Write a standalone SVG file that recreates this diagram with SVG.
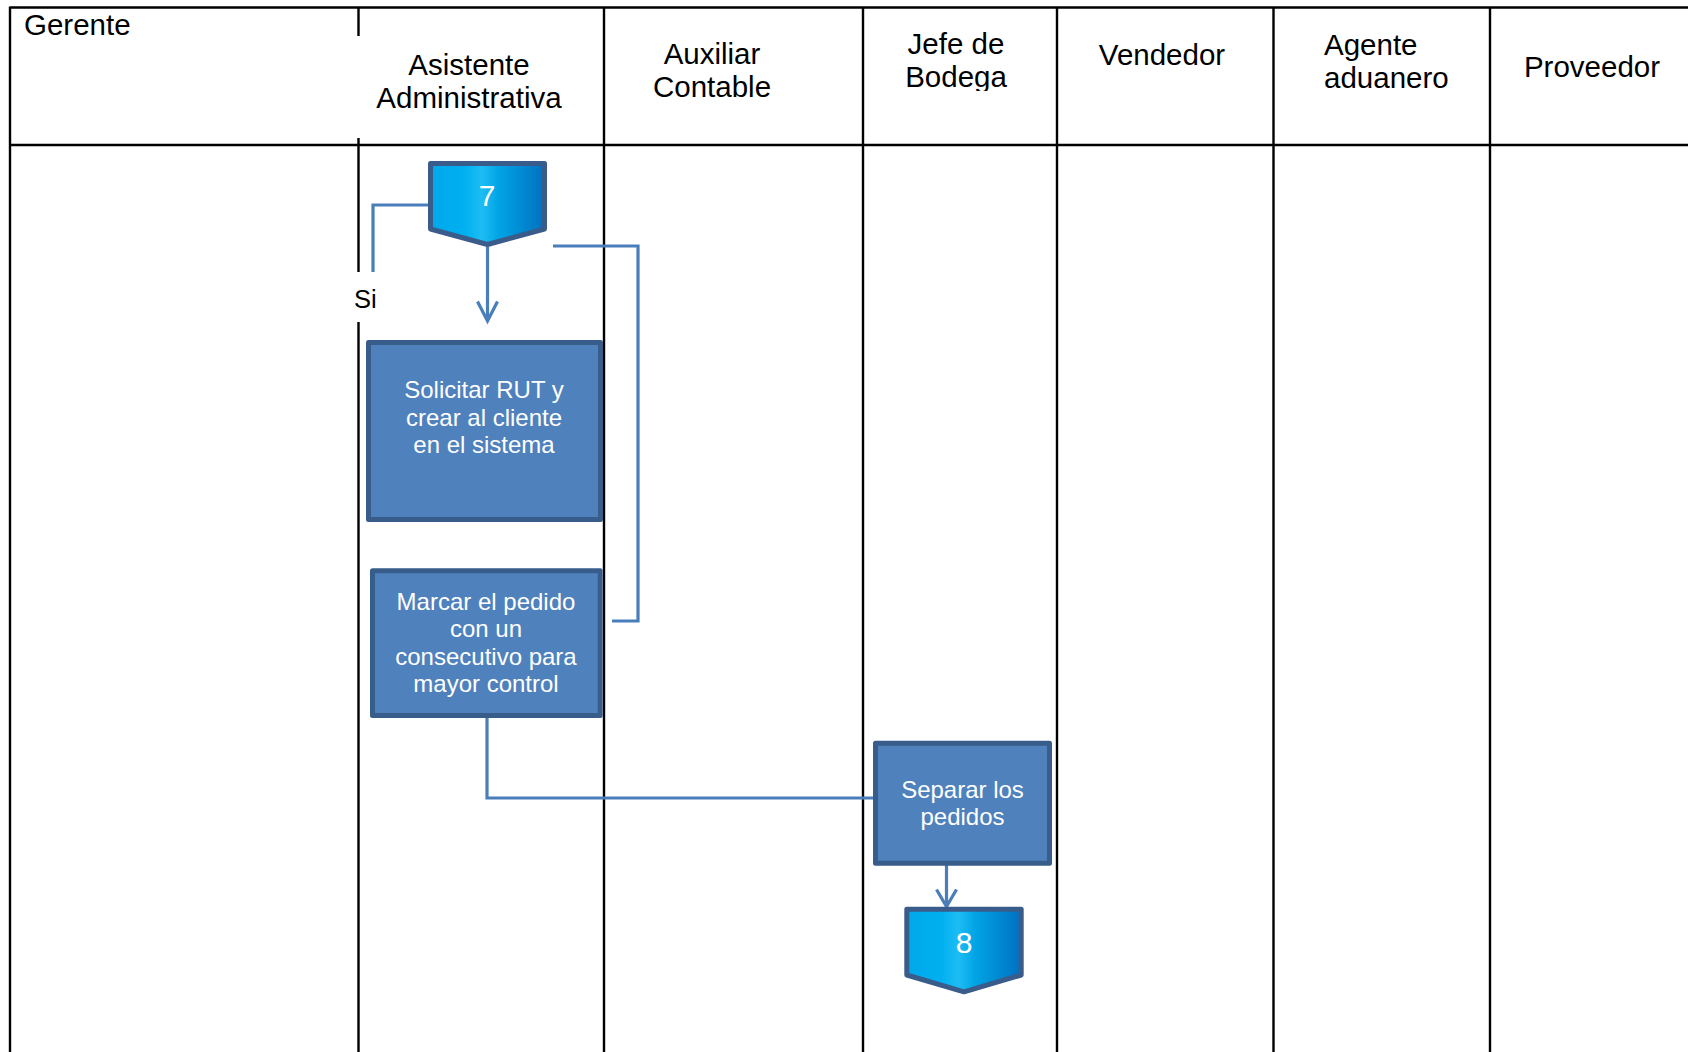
<svg xmlns="http://www.w3.org/2000/svg" width="1688" height="1052" viewBox="0 0 1688 1052">
<style>
.grid{stroke:#000;stroke-width:2.4;fill:none}
.hdr{font-family:"Liberation Sans",Arial,sans-serif;font-size:29.5px;fill:#000}
.c{text-anchor:middle}
.proc{fill:#4F81BD;stroke:#385D8A;stroke-width:5;stroke-linejoin:round}
.ptxt{font-family:"Liberation Sans",Arial,sans-serif;font-size:24px;fill:#fff;text-anchor:middle}
.off{fill:url(#g);stroke:#3A5C8A;stroke-width:5;stroke-linejoin:round}
.otxt{font-family:"Liberation Sans",Arial,sans-serif;font-size:30px;fill:#fff;text-anchor:middle}
.conn{fill:none;stroke:#4A7EBB;stroke-width:3.2}
</style>
<defs>
<linearGradient id="g" x1="0" y1="0" x2="1" y2="0">
<stop offset="0" stop-color="#00A8EA"/>
<stop offset="0.3" stop-color="#00B0F0"/>
<stop offset="0.45" stop-color="#1EBCF4"/>
<stop offset="0.6" stop-color="#00A4E4"/>
<stop offset="1" stop-color="#0070C0"/>
</linearGradient>
<clipPath id="bclip"><rect x="860" y="0" width="200" height="91"/></clipPath>
</defs>
<rect width="1688" height="1052" fill="#fff"/>
<g id="table">
<path class="grid" d="M10,7.5 H1688 M10,145 H1688 M10,6.5 V1052 M358.5,6.5 V36 M358.5,138 V272 M358.5,322 V1052 M604,7 V1052 M863,7 V1052 M1057,7 V1052 M1273.5,7 V1052 M1490,7 V1052"/>
<text class="hdr" x="24" y="35">Gerente</text>
<text class="hdr c" x="469" y="75">Asistente</text>
<text class="hdr c" x="469" y="108">Administrativa</text>
<text class="hdr c" x="712" y="64">Auxiliar</text>
<text class="hdr c" x="712" y="97">Contable</text>
<text class="hdr c" x="956" y="54">Jefe de</text>
<text class="hdr c" x="956" y="87" clip-path="url(#bclip)">Bodega</text>
<text class="hdr c" x="1162" y="65">Vendedor</text>
<text class="hdr" x="1324" y="55">Agente</text>
<text class="hdr" x="1324" y="88">aduanero</text>
<text class="hdr c" x="1592" y="77">Proveedor</text>
</g>
<g id="connectors">
<path class="conn" d="M429,205 H373 V272"/>
<path class="conn" d="M487.5,247 V320"/>
<polyline class="conn" points="477.5,301.5 487.5,321 497.5,301.5"/>
<path class="conn" d="M553,246 H638 V621 H612"/>
<path class="conn" d="M487,718 V798 H873"/>
<path class="conn" d="M946.5,865 V905"/>
<polyline class="conn" points="936.5,889.5 946.5,906.5 956.5,889.5"/>
<text x="354" y="308" font-family="Liberation Sans, Arial, sans-serif" font-size="25.5" fill="#000">Si</text>
</g>
<g id="n7">
<path class="off" d="M430.5,163.5 H544.5 V229 L487.5,244.5 L430.5,229 Z"/>
<text class="otxt" x="487" y="206">7</text>
</g>
<g id="n-solicitar">
<rect class="proc" x="368.5" y="342.5" width="232" height="177"/>
<text class="ptxt" x="484" y="398">Solicitar RUT y</text>
<text class="ptxt" x="484" y="426">crear al cliente</text>
<text class="ptxt" x="484" y="453">en el sistema</text>
</g>
<g id="n-marcar">
<rect class="proc" x="372.5" y="570.8" width="227.7" height="144.7"/>
<text class="ptxt" x="486" y="610">Marcar el pedido</text>
<text class="ptxt" x="486" y="637">con un</text>
<text class="ptxt" x="486" y="665">consecutivo para</text>
<text class="ptxt" x="486" y="692">mayor control</text>
</g>
<g id="n-separar">
<rect class="proc" x="875.5" y="743.2" width="174" height="120"/>
<text class="ptxt" x="962.5" y="798">Separar los</text>
<text class="ptxt" x="962.5" y="825">pedidos</text>
</g>
<g id="n8">
<path class="off" d="M906.8,909.2 H1021.2 V975 L964,991.8 L906.8,975 Z"/>
<text class="otxt" x="964" y="953">8</text>
</g>
</svg>
